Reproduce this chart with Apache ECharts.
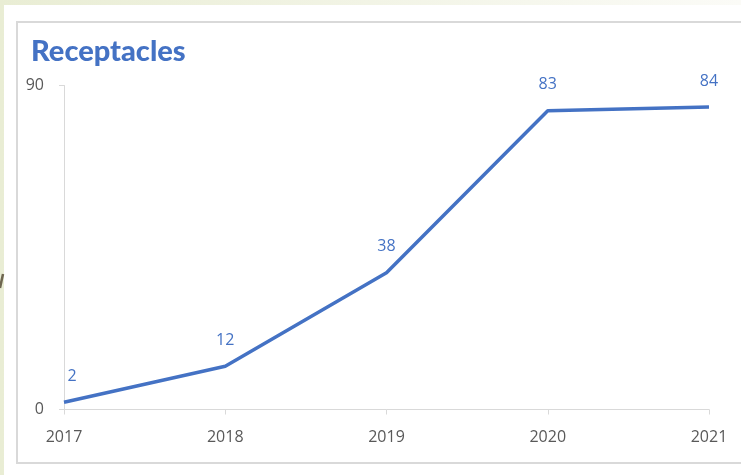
<!DOCTYPE html>
<html>
<head>
<meta charset="utf-8">
<script src="https://cdn.jsdelivr.net/npm/echarts@6/dist/echarts.min.js"></script>
<style>
  html, body { margin: 0; padding: 0; background: #ffffff; }
  #chart { width: 741px; height: 475px; }
</style>
</head>
<body>
<div id="chart"></div>
<script>
// Receptacles installed per year
const years = ['2017', '2018', '2019', '2020', '2021'];
const receptacles = [2, 12, 38, 83, 84];
const yMin = 0;
const yMax = 90;

const BLUE = '#4472C4';
const GREY_TEXT = '#595959';
const GREY_LINE = '#D9D9D9';

const chart = echarts.init(document.getElementById('chart'), null, { renderer: 'canvas' });

chart.setOption({
  animation: false,
  backgroundColor: 'transparent',
  title: {
    text: 'Receptacles',
    left: 26,
    top: 32,
    textStyle: {
      fontFamily: 'Lato',
      fontWeight: 900,
      fontSize: 29,
      color: BLUE
    }
  },
  graphic: [
    // slide backdrop
    {
      type: 'rect', z: -10, silent: true,
      shape: { x: 0, y: 0, width: 741, height: 475 },
      style: {
        fill: new echarts.graphic.LinearGradient(0, 0, 1, 0, [
          { offset: 0, color: '#E9EDD4' },
          { offset: 1, color: '#FBFBF7' }
        ])
      }
    },
    {
      type: 'rect', z: -9, silent: true,
      shape: { x: 4, y: 5, width: 737, height: 470 },
      style: { fill: '#ffffff' }
    },
    // chart frame
    {
      type: 'rect', z: -8, silent: true,
      shape: { x: 17, y: 22, width: 740, height: 441 },
      style: { fill: '#ffffff', stroke: GREY_LINE, lineWidth: 2 }
    },
    // small decorative stroke on the left edge
    {
      type: 'polyline', z: -7, silent: true,
      shape: { points: [[0, 288], [3, 274]] },
      style: { stroke: '#6E6650', lineWidth: 2.5, fill: null }
    }
  ],
  grid: {
    left: 64,
    right: 32,
    top: 85.5,
    bottom: 65.5,
    containLabel: false
  },
  xAxis: {
    type: 'category',
    data: years,
    boundaryGap: false,
    axisLine: { show: true, lineStyle: { color: GREY_LINE, width: 1 } },
    axisTick: { show: true, alignWithLabel: true, length: 5, lineStyle: { color: GREY_LINE } },
    axisLabel: {
      color: GREY_TEXT,
      fontFamily: 'Open Sans',
      fontSize: 16,
      margin: 20
    },
    splitLine: { show: false }
  },
  yAxis: {
    type: 'value',
    min: yMin,
    max: yMax,
    interval: yMax - yMin,
    axisLine: { show: true, lineStyle: { color: GREY_LINE, width: 1 } },
    axisTick: { show: true, length: 5, lineStyle: { color: GREY_LINE } },
    axisLabel: {
      color: GREY_TEXT,
      fontFamily: 'Open Sans',
      fontSize: 16,
      margin: 20,
      padding: [3, 0, 0, 0]
    },
    splitLine: { show: false }
  },
  series: [{
    type: 'line',
    data: receptacles.map((v, i) => ({
      value: v,
      label: i === 0 ? { offset: [8, 0] } : undefined
    })),
    showSymbol: true,
    symbol: 'circle',
    symbolSize: 0,
    lineStyle: { color: BLUE, width: 3.5 },
    itemStyle: { color: BLUE },
    label: {
      show: true,
      position: 'top',
      distance: 18,
      color: BLUE,
      fontFamily: 'Open Sans',
      fontSize: 16
    }
  }]
});
</script>
</body>
</html>
